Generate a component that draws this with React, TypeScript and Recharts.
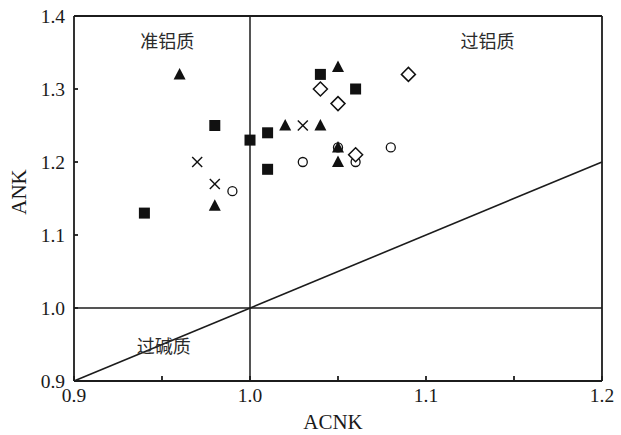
import { ScatterChart, Scatter, XAxis, YAxis, ReferenceLine, ReferenceDot, Label } from 'recharts';

// ACNK / ANK pairs
const squareX = [0.94, 0.98, 1.0, 1.01, 1.01, 1.04, 1.06];
const squareY = [1.13, 1.25, 1.23, 1.24, 1.19, 1.32, 1.3];
const triangleX = [0.96, 0.98, 1.02, 1.04, 1.05, 1.05, 1.05];
const triangleY = [1.32, 1.14, 1.25, 1.25, 1.33, 1.22, 1.2];
const crossX = [0.97, 0.98, 1.03];
const crossY = [1.2, 1.17, 1.25];
const circleX = [0.99, 1.03, 1.05, 1.06, 1.08];
const circleY = [1.16, 1.2, 1.22, 1.2, 1.22];
const diamondX = [1.04, 1.05, 1.06, 1.09];
const diamondY = [1.3, 1.28, 1.21, 1.32];

const xTicks = [0.9, 0.95, 1.0, 1.05, 1.1, 1.15, 1.2];
const yTicks = [0.9, 1.0, 1.1, 1.2, 1.3, 1.4];
const xDomain: [number, number] = [0.9, 1.2];
const yDomain: [number, number] = [0.9, 1.4];

const regions = [
  { name: '准铝质', x: 0.953, y: 1.365 },
  { name: '过铝质', x: 1.135, y: 1.365 },
  { name: '过碱质', x: 0.951, y: 0.947 },
];

const toPoints = (xs: number[], ys: number[]) => xs.map((x, i) => ({ x, y: ys[i] }));

const INK = '#111';
const LINE = '#1c1c1c';
const serif = '"Liberation Serif", "Times New Roman", serif';
const cjk = '"Noto Sans CJK SC", sans-serif';

const Square = (p: any) => <rect x={p.cx - 5.5} y={p.cy - 5.5} width={11} height={11} fill={INK} />;
const Triangle = (p: any) => (
  <polygon points={`${p.cx},${p.cy - 6.5} ${p.cx - 6},${p.cy + 5} ${p.cx + 6},${p.cy + 5}`} fill={INK} />
);
const Cross = (p: any) => (
  <g stroke={INK} strokeWidth={1.4}>
    <line x1={p.cx - 5} y1={p.cy - 5} x2={p.cx + 5} y2={p.cy + 5} />
    <line x1={p.cx - 5} y1={p.cy + 5} x2={p.cx + 5} y2={p.cy - 5} />
  </g>
);
const Circle = (p: any) => <circle cx={p.cx} cy={p.cy} r={4.5} fill="#fff" stroke={INK} strokeWidth={1.3} />;
const Diamond = (p: any) => (
  <polygon
    points={`${p.cx},${p.cy - 7} ${p.cx + 7},${p.cy} ${p.cx},${p.cy + 7} ${p.cx - 7},${p.cy}`}
    fill="#fff"
    stroke={INK}
    strokeWidth={1.5}
  />
);

const tickStyle = { fontSize: 19.5, fontFamily: serif, fill: '#1a1a1a' };
const fmt = (v: number) => (Math.round(v * 100) % 10 === 0 ? v.toFixed(1) : '');

export default function App() {
  return (
    <div style={{ position: 'absolute', left: 0, top: 0, background: '#fff' }}>
      <ScatterChart width={621} height={435} margin={{ top: 16, right: 19, bottom: 0, left: 0 }}>
        <XAxis
          type="number"
          dataKey="x"
          domain={xDomain}
          ticks={xTicks}
          tickFormatter={fmt}
          allowDataOverflow
          height={54}
          tickSize={-5}
          tickMargin={12}
          tick={tickStyle}
          stroke={LINE}
          strokeWidth={1.8}
        >
          <Label
            content={() => (
              <text x={333} y={422} textAnchor="middle" dominantBaseline="central" fontSize={21} fontFamily={serif} fill="#1a1a1a">
                ACNK
              </text>
            )}
          />
        </XAxis>
        <YAxis
          type="number"
          dataKey="y"
          domain={yDomain}
          ticks={yTicks}
          tickFormatter={(v: number) => v.toFixed(1)}
          allowDataOverflow
          width={74}
          tickSize={-4}
          tickMargin={13}
          tick={tickStyle}
          stroke={LINE}
          strokeWidth={1.8}
        >
          <Label
            content={() => (
              <text
                x={19}
                y={192}
                transform="rotate(-90 19 192)"
                textAnchor="middle"
                dominantBaseline="central"
                fontSize={21}
                fontFamily={serif}
                fill="#1a1a1a"
              >
                ANK
              </text>
            )}
          />
        </YAxis>
        <ReferenceLine y={1.4} stroke={LINE} strokeWidth={1.8} />
        <ReferenceLine x={1.2} stroke={LINE} strokeWidth={1.8} />
        <ReferenceLine x={1.0} stroke={LINE} strokeWidth={1.5} />
        <ReferenceLine y={1.0} stroke={LINE} strokeWidth={1.5} />
        <ReferenceLine
          segment={[
            { x: 0.9, y: 0.9 },
            { x: 1.2, y: 1.2 },
          ]}
          stroke={LINE}
          strokeWidth={1.6}
        />
        {regions.map((r) => (
          <ReferenceDot
            key={r.name}
            x={r.x}
            y={r.y}
            r={0}
            fill="none"
            stroke="none"
            label={{ value: r.name, position: 'center', fontSize: 18, fontFamily: cjk, fill: '#2a2a2a' }}
          />
        ))}
        <Scatter data={toPoints(circleX, circleY)} shape={Circle} isAnimationActive={false} />
        <Scatter data={toPoints(squareX, squareY)} shape={Square} isAnimationActive={false} />
        <Scatter data={toPoints(triangleX, triangleY)} shape={Triangle} isAnimationActive={false} />
        <Scatter data={toPoints(crossX, crossY)} shape={Cross} isAnimationActive={false} />
        <Scatter data={toPoints(diamondX, diamondY)} shape={Diamond} isAnimationActive={false} />
      </ScatterChart>
    </div>
  );
}
